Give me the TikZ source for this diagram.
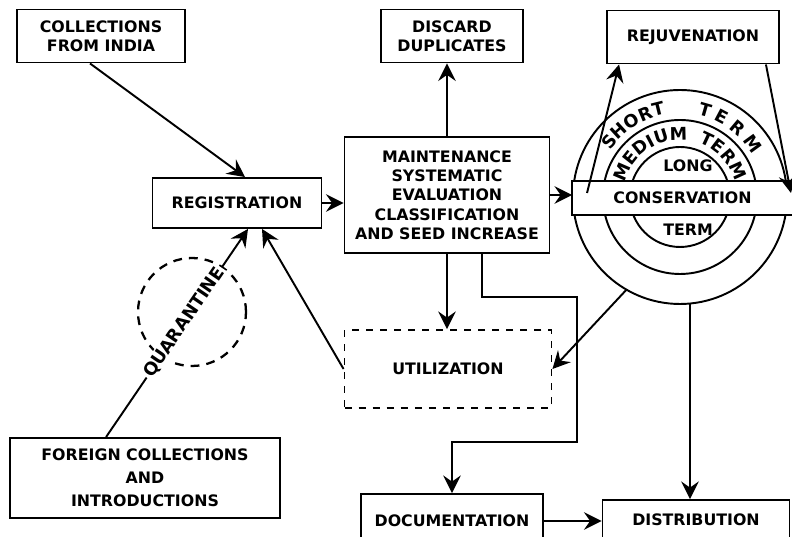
\documentclass[tikz,border=0pt]{standalone}
\usepackage{fontspec}
\setmainfont{DejaVu Sans}
\usetikzlibrary{positioning,calc,arrows.meta,decorations.text}

\begin{document}
\begin{tikzpicture}[x=0.02cm, y=0.02cm, line width=1.1pt,
    >={Stealth[length=10pt,width=10pt,inset=3.5pt]},
    font=\bfseries\fontsize{9}{11}\selectfont,
    box/.style={draw, rectangle, align=center, inner sep=0pt},
    dbox/.style={box, dash pattern=on 4pt off 4pt},
    ring/.style={decorate, decoration={text along path, text align=center,
        text={|\bfseries\fontsize{10}{12}\selectfont|#1}}},
    ringfit/.style={ring=#1, decoration={text align=fit to path}}]
    \useasboundingbox (0,0) rectangle (792,537);
    \coordinate (C) at (680,340);
    % storage rings
    \draw (C) circle (107);
    \draw (C) circle (77);
    \draw (C) circle (50);
    \node[fill=white, inner sep=0pt, minimum width=4.38cm, minimum height=0.64cm] (Cons) at (682.5,339) {CONSERVATION};
    \draw (Cons.north east) -- (Cons.north west) -- (Cons.south west) -- (Cons.south east);
    \node (Long) at (688,371) {LONG};
    \node (LTerm) at (688,307) {TERM};
    \path[ring=SHORT] (C) ++(160:84) arc[start angle=160, end angle=86, radius=84];
    \path[ringfit=TERM] (C) ++(78:84) arc[start angle=78, end angle=30, radius=84];
    \path[ring=MEDIUM] (C) ++(170:57) arc[start angle=170, end angle=78, radius=57];
    \path[ringfit=TERM] (C) ++(71:57) arc[start angle=71, end angle=16, radius=57];
    \coordinate (cb) at ($(C)+(10,-106.5)$);

    \node[box, minimum width=3.36cm, minimum height=1.06cm] (India) at (101,501) {COLLECTIONS\\FROM INDIA};
    \node[box, minimum width=3.38cm, minimum height=1cm] (Reg) at (237,334) {REGISTRATION};
    \node[box, minimum width=2.84cm, minimum height=1.06cm] (Disc) at (452,501) {DISCARD\\DUPLICATES};
    \node[box, minimum width=3.44cm, minimum height=1.06cm] (Rej) at (693,500) {REJUVENATION};
    \node[box, minimum width=4.1cm, minimum height=2.32cm] (Main) at (447,342) {MAINTENANCE\\SYSTEMATIC\\EVALUATION\\CLASSIFICATION\\AND SEED INCREASE};
    \node[dbox, minimum width=4.14cm, minimum height=1.56cm] (Util) at (448,168) {UTILIZATION};
    \node[box, minimum width=5.4cm, minimum height=1.6cm] (For) at (145,59) {FOREIGN COLLECTIONS\\[2pt]AND\\[2pt]INTRODUCTIONS};
    \node[box, minimum width=3.64cm, minimum height=1.08cm] (Doc) at (452,16) {DOCUMENTATION};
    \node[box, minimum width=3.74cm, minimum height=0.8cm] (Dist) at (696,17) {DISTRIBUTION};
    \node[draw, circle, dash pattern=on 5pt off 4pt, line width=1.3pt, minimum size=2.16cm] (Quar) at (192,225) {};

    \draw[->] ($(India.south)+(-11,0)$) -- ($(Reg.north)+(8,0)$);
    \draw[->] ($(For.north west)+(97,0)$) -- node[pos=0.55, sloped, fill=white, inner sep=1pt, font=\bfseries\fontsize{10}{12}\selectfont] {QUARANTINE} ($(Reg.south)+(11,0)$);
    \draw[->] (Util.west) -- ($(Reg.south)+(25,0)$);
    \draw[->] (Reg.east) -- (Reg.east -| Main.west);
    \draw[->] (Main.north) -- (Main.north |- Disc.south);
    \draw[->] (Main.south) -- (Main.south |- Util.north);
    \draw[->] ($(Main.south)+(35,0)$) -- ++(0,-43) -| (577,95) -| (Doc.north);
    \draw[->] (Main.east) -- (Main.east -| Cons.west);
    \draw[->] ($(Cons.west)+(15,5)$) -- ($(Rej.south west)+(13,0)$);
    \draw[->] ($(Rej.south east)+(-14,0)$) -- ($(Cons.east)+(-2,5)$);
    \draw[->] ($(C)+(240:107)$) -- (Util.east);
    \draw[->] (cb) -- (cb |- Dist.north);
    \draw[->] (Doc.east) -- (Doc.east -| Dist.west);
\end{tikzpicture}
\end{document}
